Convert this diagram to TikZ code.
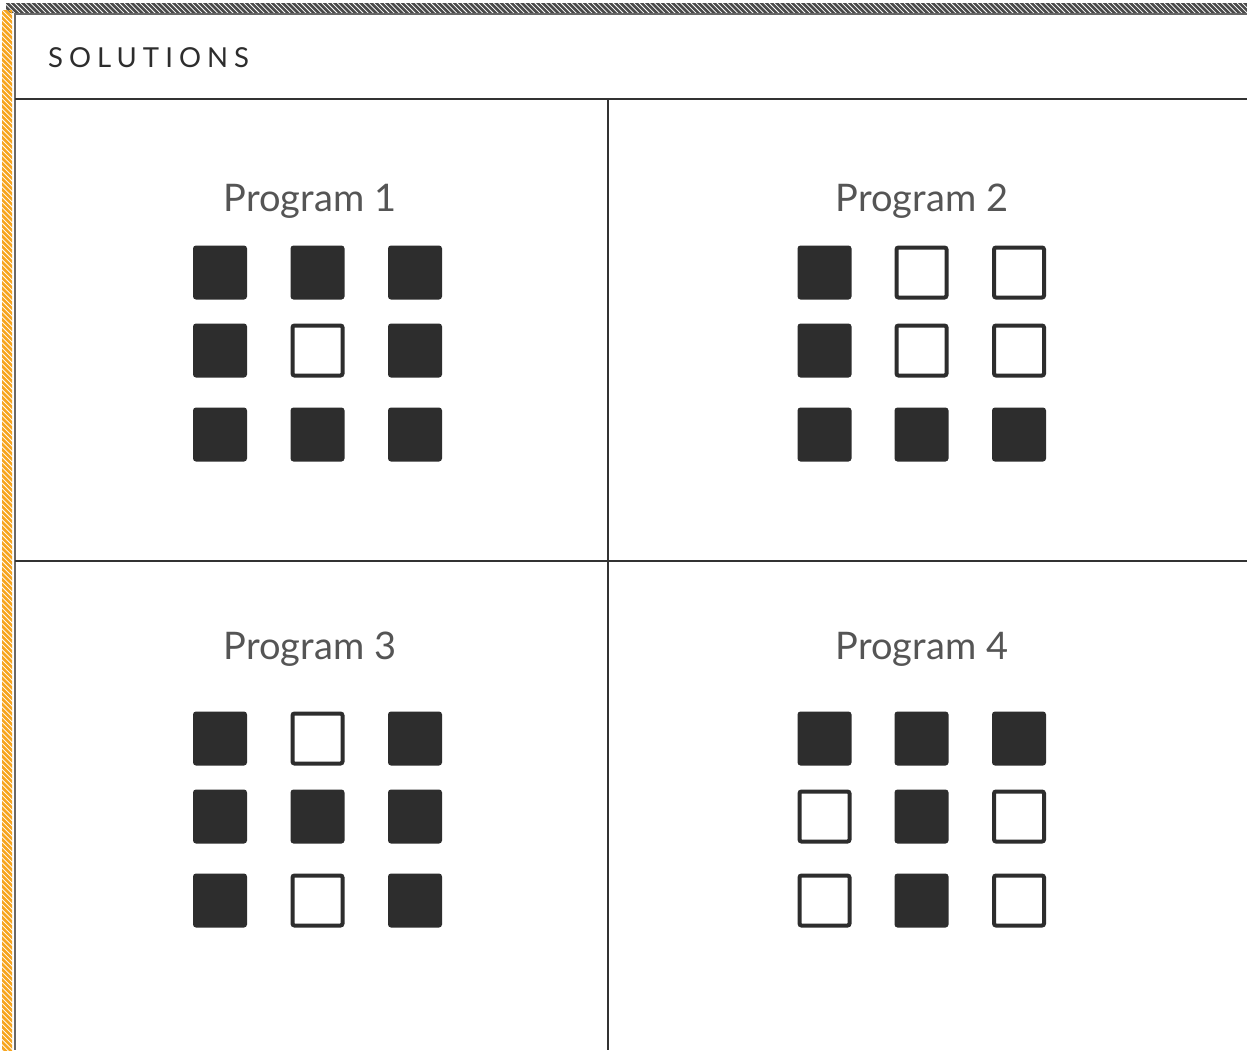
\documentclass[tikz,border=0pt]{standalone}
\usepackage{fontspec}
\setmainfont{Lato}
\begin{document}
\begin{tikzpicture}[x=1pt,y=-1pt,
  fillsq/.style={fill=sqc,draw=none,rounded corners=3pt,minimum size=54pt,inner sep=0pt,outer sep=0pt},
  opensq/.style={fill=white,draw=sqc,line width=4pt,rounded corners=2pt,minimum size=50pt,inner sep=0pt,outer sep=0pt},
  title/.style={text=txc,font=\fontsize{38}{42}\selectfont,inner sep=0pt,anchor=base},
  grid/.style={draw=lnc,line width=1.4pt}]
\definecolor{sqc}{HTML}{2D2D2D}
\definecolor{txc}{HTML}{555555}
\definecolor{lnc}{HTML}{333333}
\definecolor{brc}{HTML}{666666}
\definecolor{htc}{HTML}{4A4A4A}
\definecolor{orc}{HTML}{F7A51E}
\useasboundingbox (0,0) rectangle (1247,1050);
\fill[white] (0,0) rectangle (1247,1050);
% top hatched band
\begin{scope}
\clip (6,3) rectangle (1247,12);
\foreach \i in {0,...,245} {\draw[htc,line width=2.6pt] (\i*5.2,1) -- (\i*5.2+13,14);}
\end{scope}
% left hatched band
\begin{scope}
\clip (2,10) rectangle (12,1050);
\foreach \i in {-5,...,205} {\draw[orc,line width=2.6pt] (0,\i*5.2) -- (14,\i*5.2+14);}
\end{scope}
% border
\coordinate (tl) at (15,14);
\coordinate (tr) at (1247,14);
\coordinate (bl) at (15,1050);
\draw[brc,line width=2pt] (tr) -- (tl) -- (bl);
% header
\node[anchor=base west,text=sqc,inner sep=0pt,font=\fontsize{27.5}{30}\selectfont\addfontfeature{LetterSpace=22}] (hdr) at (48,67.5) {SOLUTIONS};
% grid lines
\coordinate (hl) at (15,99); \coordinate (hr) at (1247,99);
\coordinate (ml) at (15,561); \coordinate (mr) at (1247,561);
\coordinate (vt) at (608,99); \coordinate (vb) at (608,1050);
\draw[grid] (hl) -- (hr);
\draw[grid] (ml) -- (mr);
\draw[grid] (vt) -- (vb);
% titles
\node[title] (t1) at (310,211) {Program 1};
\node[title] (t2) at (922,211) {Program 2};
\node[title] (t3) at (310,659) {Program 3};
\node[title] (t4) at (922,659) {Program 4};
% Program 1
\node[fillsq] (a11) at (220,272.5) {};
\node[fillsq] (a12) at (317.5,272.5) {};
\node[fillsq] (a13) at (415,272.5) {};
\node[fillsq] (a21) at (220,350.5) {};
\node[opensq] (a22) at (317.5,350.5) {};
\node[fillsq] (a23) at (415,350.5) {};
\node[fillsq] (a31) at (220,434.5) {};
\node[fillsq] (a32) at (317.5,434.5) {};
\node[fillsq] (a33) at (415,434.5) {};
% Program 2
\node[fillsq] (b11) at (824.5,272.5) {};
\node[opensq] (b12) at (921.5,272.5) {};
\node[opensq] (b13) at (1019,272.5) {};
\node[fillsq] (b21) at (824.5,350.5) {};
\node[opensq] (b22) at (921.5,350.5) {};
\node[opensq] (b23) at (1019,350.5) {};
\node[fillsq] (b31) at (824.5,434.5) {};
\node[fillsq] (b32) at (921.5,434.5) {};
\node[fillsq] (b33) at (1019,434.5) {};
% Program 3
\node[fillsq] (c11) at (220,738.5) {};
\node[opensq] (c12) at (317.5,738.5) {};
\node[fillsq] (c13) at (415,738.5) {};
\node[fillsq] (c21) at (220,816.5) {};
\node[fillsq] (c22) at (317.5,816.5) {};
\node[fillsq] (c23) at (415,816.5) {};
\node[fillsq] (c31) at (220,900.5) {};
\node[opensq] (c32) at (317.5,900.5) {};
\node[fillsq] (c33) at (415,900.5) {};
% Program 4
\node[fillsq] (d11) at (824.5,738.5) {};
\node[fillsq] (d12) at (921.5,738.5) {};
\node[fillsq] (d13) at (1019,738.5) {};
\node[opensq] (d21) at (824.5,816.5) {};
\node[fillsq] (d22) at (921.5,816.5) {};
\node[opensq] (d23) at (1019,816.5) {};
\node[opensq] (d31) at (824.5,900.5) {};
\node[fillsq] (d32) at (921.5,900.5) {};
\node[opensq] (d33) at (1019,900.5) {};
\end{tikzpicture}
\end{document}
